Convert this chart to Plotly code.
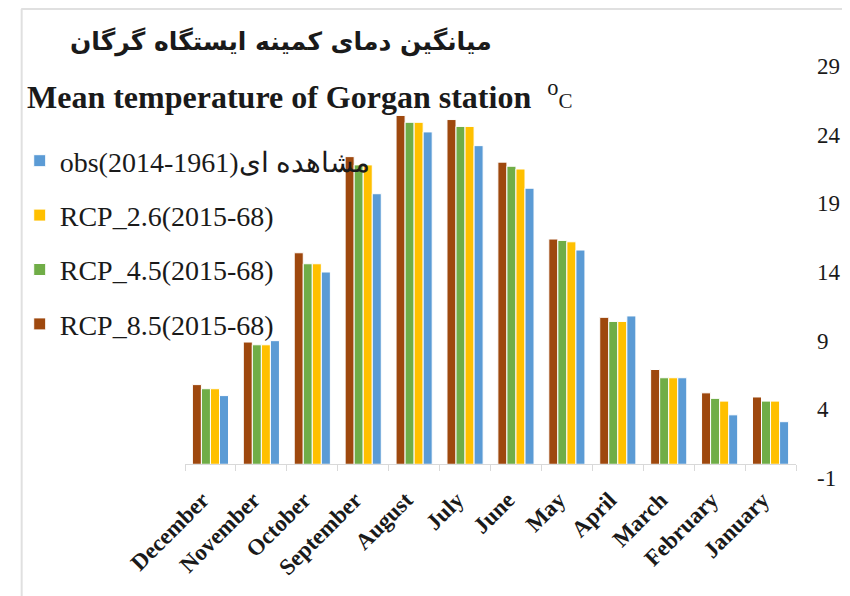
import plotly.graph_objects as go

months = ["December", "November", "October", "September", "August", "July",
          "June", "May", "April", "March", "February", "January"]
rcp85 = [5.8, 8.9, 15.4, 22.4, 25.4, 25.1, 22.0, 16.4, 10.7, 6.9, 5.2, 4.9]
rcp45 = [5.5, 8.7, 14.6, 21.8, 24.9, 24.6, 21.7, 16.3, 10.4, 6.3, 4.8, 4.6]
rcp26 = [5.5, 8.7, 14.6, 21.8, 24.9, 24.6, 21.5, 16.2, 10.4, 6.3, 4.6, 4.6]
obs = [5.0, 9.0, 14.0, 19.7, 24.2, 23.2, 20.1, 15.6, 10.8, 6.3, 3.6, 3.1]

series = [
    ("RCP_8.5(2015-68)", rcp85, "#9E480E", 4),
    ("RCP_4.5(2015-68)", rcp45, "#70AD47", 3),
    ("RCP_2.6(2015-68)", rcp26, "#FFC000", 2),
    ("obs(2014-1961)مشاهده ای", obs, "#5B9BD5", 1),
]
y_ticks = [-1, 4, 9, 14, 19, 24, 29]
y_tick_text = [str(v) for v in y_ticks]

# page has an 8px body margin: work in page pixels, convert to figure pixels
OFF = 8
FW, FH = 850 - OFF, 596 - OFF
L, R, T, B = 175 - OFF, 796 - OFF, 66 - OFF, 478 - OFF
W, H = R - L, B - T

def px(x):
    return (x - OFF - L) / W

def py(y):
    return (B - (y - OFF)) / H

fig = go.Figure()
for i, (name, vals, col, rank) in enumerate(series):
    fig.add_trace(go.Bar(
        x=months, y=vals, name=name, legendgroup=str(i), legendrank=rank,
        marker=dict(color=col, line=dict(color="white", width=1)),
    ))

serif = "Liberation Serif, Times New Roman, serif"

fig.update_layout(
    width=FW, height=FH,
    margin=dict(l=L, r=FW - R, t=T, b=FH - B),
    paper_bgcolor="white", plot_bgcolor="white",
    barmode="group", bargap=0.29, bargroupgap=0.0,
    showlegend=True,
    legend=dict(
        x=px(7), y=py(136), xanchor="left", yanchor="top",
        traceorder="grouped", tracegroupgap=15,
        font=dict(family=serif, size=28, color="#1a1a1a"),
        bgcolor="rgba(0,0,0,0)", itemwidth=30,
    ),
    font=dict(family=serif, color="#1a1a1a"),
)

fig.update_xaxes(
    anchor="free", position=1 / 30, automargin=False,
    tickmode="array", tickvals=months,
    ticktext=[m + "\u00a0\u00a0" for m in months],
    showline=True, linecolor="#d9d9d9", linewidth=1,
    ticks="outside", tickson="boundaries", ticklen=6, tickcolor="#d9d9d9",
    tickangle=-45, ticklabelstandoff=4,
    tickfont=dict(family=serif, size=23, color="#1a1a1a", weight="bold"),
    showgrid=False, zeroline=False,
)
fig.update_yaxes(
    range=[-1, 29], tickvals=y_ticks, ticktext=y_tick_text, side="right",
    automargin=False,
    showgrid=False, zeroline=False, showline=False,
    ticklabelstandoff=20,
    tickfont=dict(family=serif, size=23, color="#1a1a1a"),
)

fig.add_annotation(
    text="<b>میانگین دمای کمینه ایستگاه گرگان</b>",
    xref="paper", yref="paper", x=px(273), y=py(42),
    xanchor="center", yanchor="middle", showarrow=False,
    font=dict(family="DejaVu Sans, Noto Sans, sans-serif", size=25, color="#1a1a1a"),
)
fig.add_annotation(
    text="<b>Mean temperature of Gorgan station</b>  <sup>o</sup><span style='font-size:21px'>C</span>",
    xref="paper", yref="paper", x=px(12), y=py(95),
    xanchor="left", yanchor="middle", showarrow=False,
    font=dict(family=serif, size=32, color="#1a1a1a"),
)

# chart-area border
fig.add_shape(type="line", xref="paper", yref="paper",
              x0=px(8.5), x1=px(860), y0=py(9), y1=py(9),
              line=dict(color="#e0e0e0", width=2))
fig.add_shape(type="line", xref="paper", yref="paper",
              x0=px(9), x1=px(9), y0=py(9), y1=py(600),
              line=dict(color="#e0e0e0", width=2))

fig.write_html("out.html")
